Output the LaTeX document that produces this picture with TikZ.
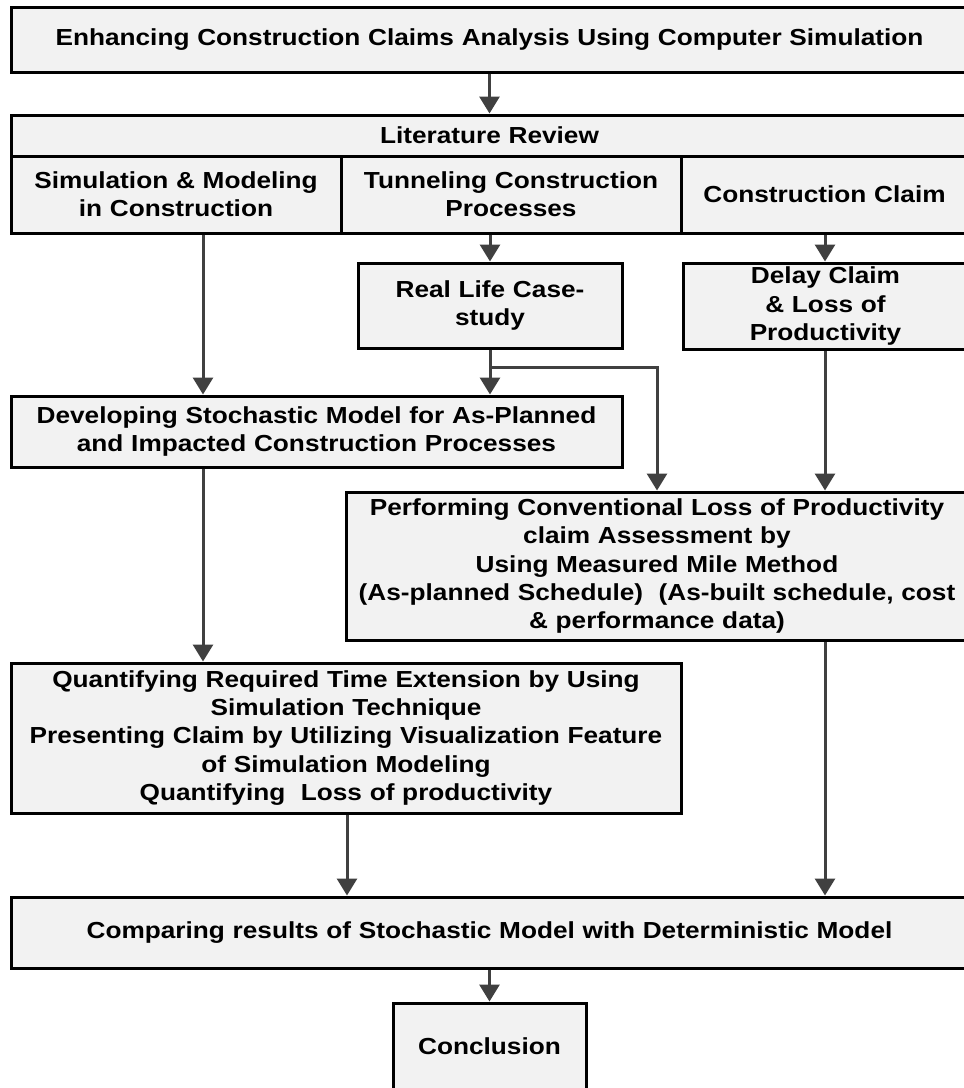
\documentclass[tikz,border=0pt]{standalone}
\usepackage{fontspec}
\setmainfont{Liberation Sans}[FakeStretch=1.13]
\usetikzlibrary{arrows.meta,calc}
\definecolor{boxfill}{HTML}{F2F2F2}
\definecolor{arrowgray}{HTML}{404040}
\begin{document}
\begin{tikzpicture}[x=1pt,y=-1pt,
  box/.style={draw=black,line width=3pt,fill=boxfill,inner sep=0pt,align=center,
    font=\fontsize{23.2}{28.3}\selectfont\bfseries},
  arr/.style={draw=arrowgray,line width=3pt,-{Triangle[width=20pt,length=17pt]}},
  ln/.style={draw=arrowgray,line width=3pt}]
\useasboundingbox (0,0) rectangle (964,1088);
\clip (0,0) rectangle (964,1088);
% boxes
\node[box,minimum width=957pt,minimum height=65pt,text width=940pt] (title) at (489.5,39.5)
  {Enhancing Construction Claims Analysis Using Computer Simulation};
\node[box,minimum width=957pt,minimum height=41pt,text width=940pt] (lit) at (489.5,135.5)
  {Literature Review};
\node[box,minimum width=330pt,minimum height=77pt,text width=324pt] (sim) at (176,194.5)
  {Simulation \& Modeling\\in Construction};
\node[box,minimum width=340pt,minimum height=77pt,text width=334pt] (tun) at (511,194.5)
  {Tunneling Construction\\Processes};
\node[box,minimum width=287pt,minimum height=77pt,text width=280pt] (claim) at (824.5,194.5)
  {Construction Claim};
\node[box,minimum width=264pt,minimum height=85pt,text width=256pt] (real) at (490,305.5)
  {Real Life Case-\\study};
\node[box,minimum width=285pt,minimum height=86pt,text width=278pt] (delay) at (825.5,306)
  {Delay Claim\\\& Loss of\\Productivity};
\node[box,minimum width=611pt,minimum height=71pt,text width=604pt] (dev) at (316.5,431.5)
  {Developing Stochastic Model for As-Planned\\and Impacted Construction Processes};
\node[box,minimum width=622pt,minimum height=148pt,text width=618pt] (perf) at (657,566)
  {Performing Conventional Loss of Productivity\\claim Assessment by\\Using Measured Mile Method\\(As-planned Schedule)~ (As-built schedule, cost\\\& performance data)};
\node[box,minimum width=670pt,minimum height=150pt,text width=664pt] (quant) at (346,738)
  {Quantifying Required Time Extension by Using\\Simulation Technique\\Presenting Claim by Utilizing Visualization Feature\\of Simulation Modeling\\Quantifying~ Loss of productivity};
\node[box,minimum width=957pt,minimum height=71pt,text width=940pt] (comp) at (489.5,932.5)
  {Comparing results of Stochastic Model with Deterministic Model};
\node[box,minimum width=193pt,minimum height=87pt,text width=185pt] (concl) at (489.5,1046.5)
  {Conclusion};
% helper coordinates
\coordinate (colA) at (203,0);
\coordinate (colQ) at (347,0);
\coordinate (colR) at (825,0);
\coordinate (branch) at ($(real.south)+(0,18)$);
% connectors
\draw[arr] (title.south) -- (lit.north);
\draw[arr] (sim.south -| colA) -- (dev.north -| colA);
\draw[arr] (tun.south -| real.north) -- (real.north);
\draw[arr] (claim.south -| colR) -- (delay.north -| colR);
\draw[arr] (real.south) -- (dev.north -| real.south);
\draw[arr] (branch) -| (perf.north);
\draw[arr] (delay.south -| colR) -- (perf.north -| colR);
\draw[arr] (dev.south -| colA) -- (quant.north -| colA);
\draw[arr] (perf.south -| colR) -- (comp.north -| colR);
\draw[arr] (quant.south -| colQ) -- (comp.north -| colQ);
\draw[arr] (comp.south) -- (concl.north);
\end{tikzpicture}
\end{document}
